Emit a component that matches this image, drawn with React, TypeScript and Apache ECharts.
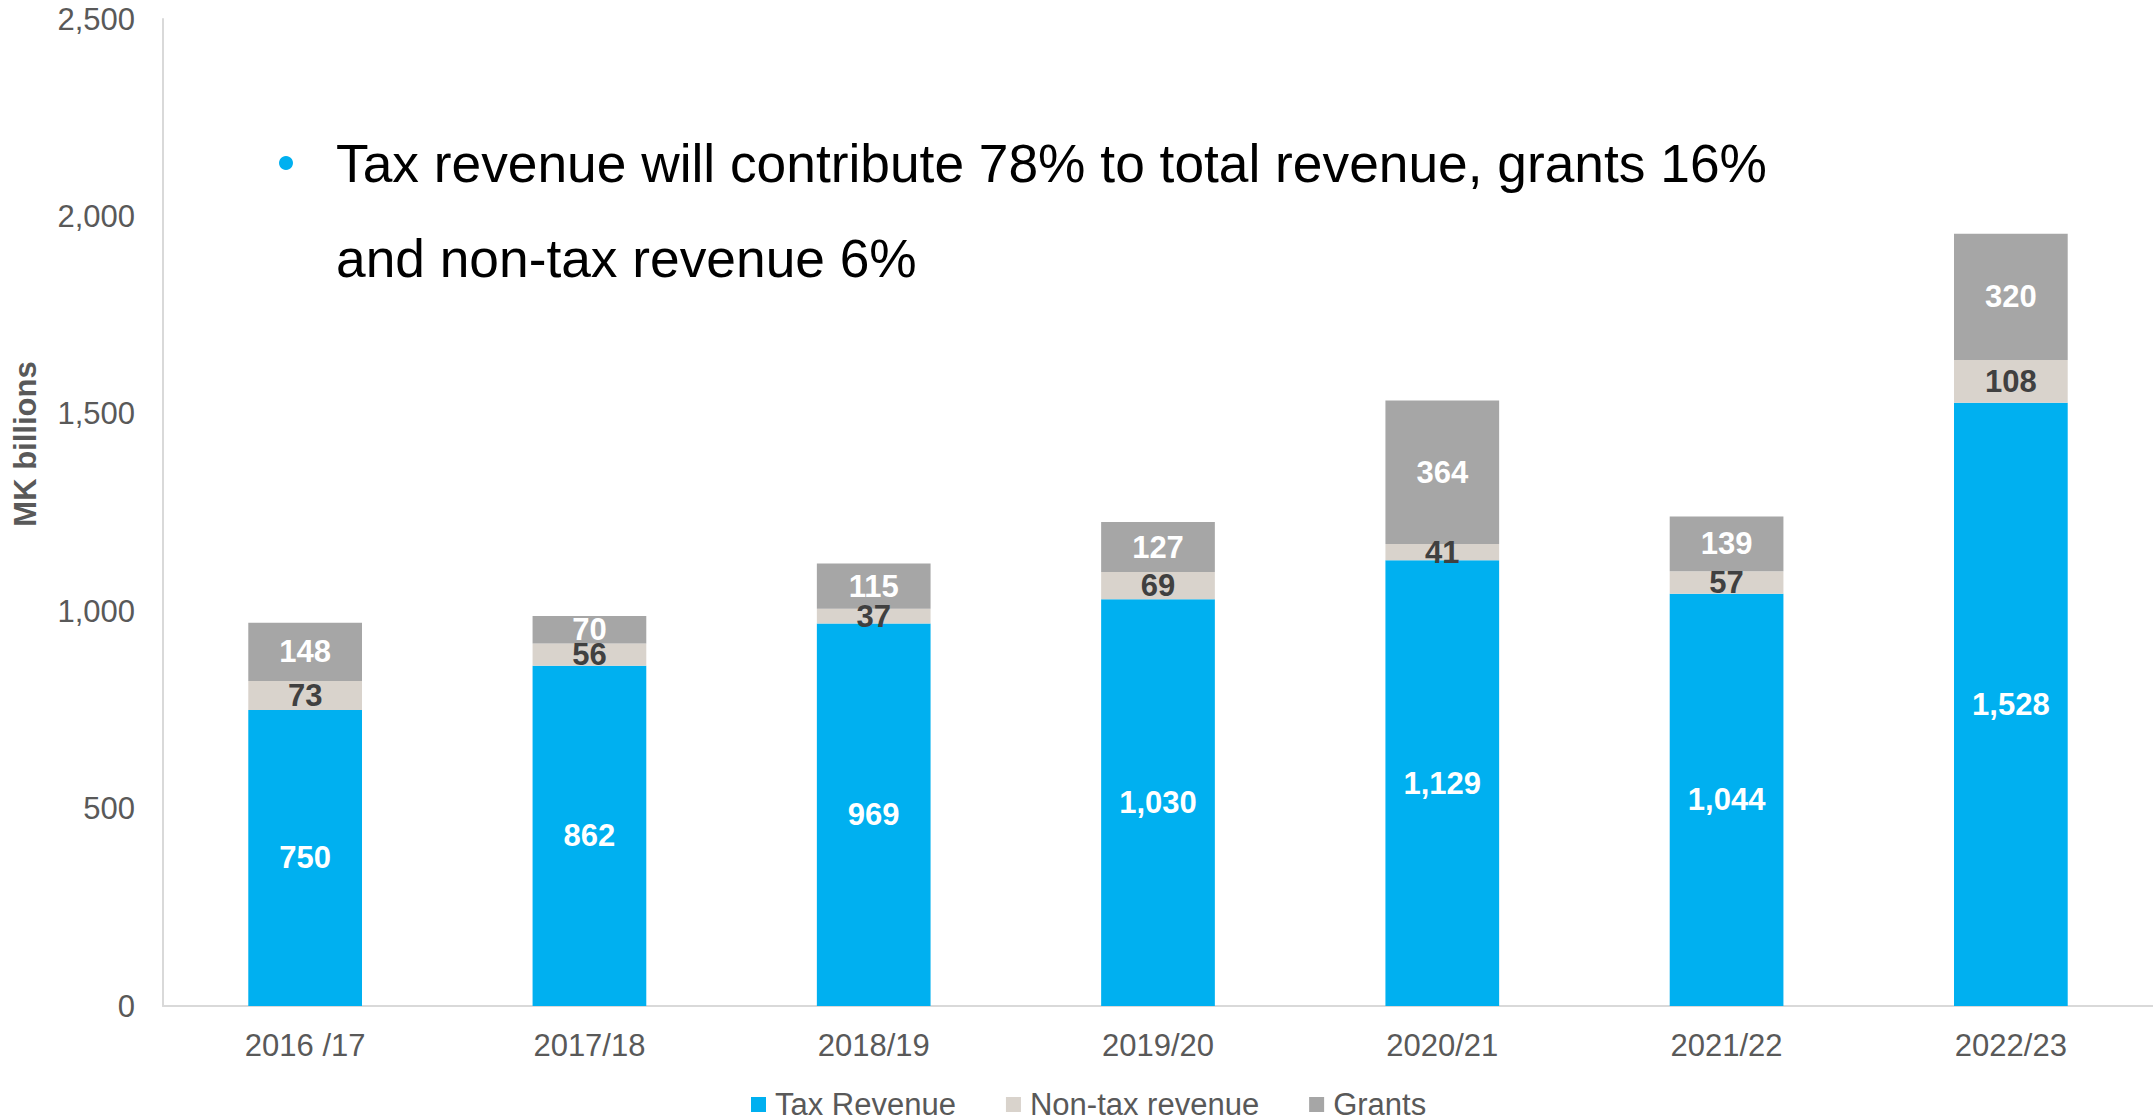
import React, { useEffect, useRef } from "react";
import * as echarts from "echarts";

const categories = ["2016 /17", "2017/18", "2018/19", "2019/20", "2020/21", "2021/22", "2022/23"];
const taxRevenue = [750, 862, 969, 1030, 1129, 1044, 1528];
const nonTaxRevenue = [73, 56, 37, 69, 41, 57, 108];
const grants = [148, 70, 115, 127, 364, 139, 320];
const yTicks = { min: 0, max: 2500, interval: 500 };
const noteLines = [
  "Tax revenue will contribute 78% to total revenue, grants 16%",
  "and non-tax revenue 6%",
];

const FONT = "'Liberation Sans', Arial, Helvetica, sans-serif";

export default function App() {
  const ref = useRef<HTMLDivElement>(null);
  useEffect(() => {
    if (!ref.current) return;
    const chart = echarts.init(ref.current, null, { renderer: "svg" });
    const labelBase = {
      show: true,
      position: "inside",
      fontFamily: FONT,
      fontSize: 31,
      fontWeight: "bold",
    };
    chart.setOption({
      animation: false,
      textStyle: { fontFamily: FONT },
      grid: { left: 163, right: -4, top: 19, bottom: 114, containLabel: false },
      legend: {
        left: 746,
        top: 1084,
        icon: "rect",
        itemWidth: 15,
        itemHeight: 15,
        itemGap: 50,
        textStyle: { fontFamily: FONT, fontSize: 31, color: "#595959", padding: [0, 0, 0, 4] },
        data: ["Tax Revenue", "Non-tax revenue", "Grants"],
      },
      xAxis: {
        type: "category",
        data: categories,
        axisLine: { show: true, lineStyle: { color: "#d9d9d9", width: 2 } },
        axisTick: { show: false },
        axisLabel: { margin: 24, fontFamily: FONT, fontSize: 31, color: "#595959" },
      },
      yAxis: {
        type: "value",
        min: yTicks.min,
        max: yTicks.max,
        interval: yTicks.interval,
        axisLine: { show: true, lineStyle: { color: "#d9d9d9", width: 2 } },
        axisTick: { show: false },
        splitLine: { show: false },
        axisLabel: {
          margin: 28,
          fontFamily: FONT,
          fontSize: 31,
          color: "#595959",
          formatter: (v: number) => v.toLocaleString("en-US"),
        },
      },
      graphic: [
        {
          type: "text",
          x: 25,
          y: 444,
          rotation: Math.PI / 2,
          style: {
            text: "MK billions",
            fontFamily: FONT,
            fontSize: 31,
            fontWeight: "bold",
            fill: "#595959",
            align: "center",
            verticalAlign: "middle",
          },
        },
        {
          type: "circle",
          shape: { cx: 286, cy: 163, r: 7 },
          style: { fill: "#00b0f0" },
        },
        {
          type: "text",
          x: 336,
          y: 163,
          style: {
            text: noteLines[0],
            fontFamily: FONT,
            fontSize: 53.3,
            fill: "#000000",
            align: "left",
            verticalAlign: "middle",
          },
        },
        {
          type: "text",
          x: 336,
          y: 258,
          style: {
            text: noteLines[1],
            fontFamily: FONT,
            fontSize: 53.3,
            fill: "#000000",
            align: "left",
            verticalAlign: "middle",
          },
        },
      ],
      series: [
        {
          name: "Tax Revenue",
          type: "bar",
          stack: "total",
          barWidth: "40%",
          data: taxRevenue,
          itemStyle: { color: "#00b0f0" },
          label: { ...labelBase, color: "#ffffff", formatter: (p: any) => p.value.toLocaleString("en-US") },
        },
        {
          name: "Non-tax revenue",
          type: "bar",
          stack: "total",
          data: nonTaxRevenue,
          itemStyle: { color: "#d9d3cc" },
          label: { ...labelBase, color: "#404040" },
        },
        {
          name: "Grants",
          type: "bar",
          stack: "total",
          data: grants,
          itemStyle: { color: "#a6a6a6" },
          label: { ...labelBase, color: "#ffffff" },
        },
      ],
    });
    return () => chart.dispose();
  }, []);
  return (
    <div
      ref={ref}
      style={{ position: "absolute", left: 0, top: 0, width: 2153, height: 1120, background: "#ffffff" }}
    />
  );
}
